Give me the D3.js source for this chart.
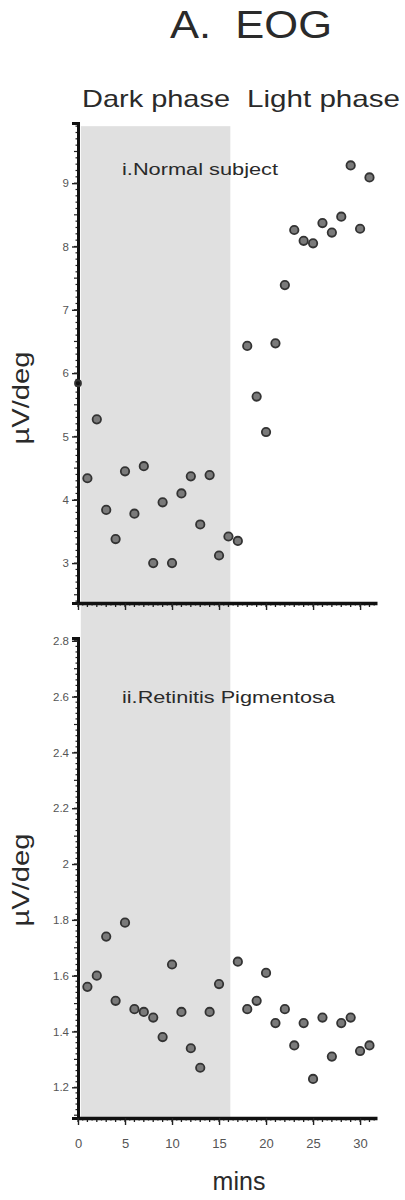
<!DOCTYPE html>
<html>
<head>
<meta charset="utf-8">
<script src="https://cdn.jsdelivr.net/npm/d3@7"></script>
<style>
    body { margin: 0; background: #fff; }
    svg { display: block; font-family: 'Liberation Sans', Arial, sans-serif; }
    .tick text { fill: #555; }
</style>
</head>
<body>
<svg id="chart" width="405" height="1200"></svg>
<script>
// minutes for each reading
const normalMins = [0, 1, 2, 3, 4, 5, 6, 7, 8, 9, 10, 11, 12, 13, 14, 15, 16, 17, 18, 19, 20, 21, 22, 23, 24, 25, 26, 27, 28, 29, 30, 31];
const normalVals = [5.84, 4.34, 5.27, 3.84, 3.38, 4.45, 3.78, 4.53, 3.0, 3.96, 3.0, 4.1, 4.37, 3.61, 4.39, 3.12, 3.42, 3.35, 6.43, 5.63, 5.07, 6.47, 7.39, 8.26, 8.09, 8.05, 8.37, 8.22, 8.47, 9.28, 8.28, 9.09];

const rpMins = [1, 2, 3, 4, 5, 6, 7, 8, 9, 10, 11, 12, 13, 14, 15, 17, 18, 19, 20, 21, 22, 23, 24, 25, 26, 27, 28, 29, 30, 31];
const rpVals = [1.56, 1.6, 1.74, 1.51, 1.79, 1.48, 1.47, 1.45, 1.38, 1.64, 1.47, 1.34, 1.27, 1.47, 1.57, 1.65, 1.48, 1.51, 1.61, 1.43, 1.48, 1.35, 1.43, 1.23, 1.45, 1.31, 1.43, 1.45, 1.33, 1.35];

const xTicks = [0, 5, 10, 15, 20, 25, 30];
const normalTicks = [3, 4, 5, 6, 7, 8, 9];
const rpTicks = [1.2, 1.4, 1.6, 1.8, 2, 2.2, 2.4, 2.6, 2.8];
const darkPhase = [0.3, 16.2];

const svg = d3.select('#chart');

const x = d3.scaleLinear().domain([0, 31.8]).range([78, 377]);
const yTop = d3.scaleLinear().domain([2.37, 9.95]).range([603, 123]);
const yBot = d3.scaleLinear().domain([1.09, 2.81]).range([1118, 638]);

function label(txt, px, py, size, width) {
    const t = svg.append('text')
        .attr('x', px)
        .attr('y', py)
        .attr('font-size', size)
        .attr('fill', '#2a2a2a')
        .attr('xml:space', 'preserve')
        .text(txt);
    if (width) {
        t.attr('textLength', width).attr('lengthAdjust', 'spacingAndGlyphs');
    }
    return t;
}

// shaded dark phase, runs through both panels
svg.append('rect')
    .attr('x', x(darkPhase[0]))
    .attr('width', x(darkPhase[1]) - x(darkPhase[0]))
    .attr('y', yTop(9.9))
    .attr('height', yBot(1.09) - yTop(9.9))
    .attr('fill', '#e0e0e0');

label('A.  EOG', 170, 38, 38, 162);
label('Dark phase', 82, 107, 24, 148);
label('Light phase', 247, 107, 24, 153);

function yAxis(scale, step, minor, majors, fmt) {
    const [lo, hi] = scale.domain();
    const g = svg.append('g').attr('transform', `translate(${x(0)},0)`);
    const fine = d3.range(Math.ceil(lo / minor) * minor, hi, minor);
    g.selectAll('.fine')
        .data(fine)
        .join('line')
        .attr('x1', 0)
        .attr('x2', d => (Math.abs(d / (step / 2) - Math.round(d / (step / 2))) < 1e-6 ? -4 : -2.5))
        .attr('y1', d => scale(d))
        .attr('y2', d => scale(d))
        .attr('stroke', '#222')
        .attr('stroke-width', 1.2);
    const axis = d3.axisLeft(scale).tickValues(majors).tickSize(6).tickPadding(3).tickFormat(fmt);
    g.call(axis);
    g.select('.domain').attr('stroke', '#111').attr('stroke-width', 3);
    g.selectAll('.tick line').attr('stroke', '#222').attr('stroke-width', 1.4);
    g.selectAll('.tick text').attr('font-size', 11.5).attr('fill', '#555');
    return g;
}

function xAxis(yPos, labels) {
    const g = svg.append('g').attr('transform', `translate(0,${yPos})`);
    g.selectAll('.fine')
        .data(d3.range(0, 31.8, 0.5))
        .join('line')
        .attr('x1', d => x(d))
        .attr('x2', d => x(d))
        .attr('y1', 0)
        .attr('y2', d => (d % 1 === 0 ? 4 : 2.5))
        .attr('stroke', '#222')
        .attr('stroke-width', 1.3);
    const axis = d3.axisBottom(x).tickValues(xTicks).tickSize(7).tickPadding(14).tickSizeOuter(0)
        .tickFormat(labels ? d3.format('d') : '');
    g.call(axis);
    g.select('.domain').attr('stroke', '#111').attr('stroke-width', 3.5);
    g.selectAll('.tick line').attr('stroke', '#222').attr('stroke-width', 1.4);
    g.selectAll('.tick text').attr('font-size', 13).attr('fill', '#555');
    return g;
}

yAxis(yTop, 1, 0.1, normalTicks, d3.format('d'));
xAxis(yTop(2.37), false);
yAxis(yBot, 0.2, 0.02, rpTicks, d3.format('~g'));
xAxis(yBot(1.09), true);

function scatter(mins, vals, scale) {
    svg.append('g')
        .selectAll('circle')
        .data(mins.map((m, i) => ({ m, v: vals[i] })))
        .join('circle')
        .attr('cx', d => x(d.m))
        .attr('cy', d => scale(d.v))
        .attr('r', d => (d.m === 0 ? 3 : 4.2))
        .attr('fill', d => (d.m === 0 ? '#111' : '#7a7a7a'))
        .attr('stroke', '#333')
        .attr('stroke-width', 1.8);
}

scatter(normalMins, normalVals, yTop);
scatter(rpMins, rpVals, yBot);

label('i.Normal subject', 122, 175, 16, 156);
label('ii.Retinitis Pigmentosa', 122, 703, 16, 213);

[398, 880].forEach(cy => {
    svg.append('text')
        .attr('transform', `translate(29,${cy}) rotate(-90)`)
        .attr('text-anchor', 'middle')
        .attr('font-size', 24)
        .attr('fill', '#2a2a2a')
        .attr('textLength', 93)
        .attr('lengthAdjust', 'spacingAndGlyphs')
        .text('µV/deg');
});

svg.append('text')
    .attr('x', 239)
    .attr('y', 1190)
    .attr('text-anchor', 'middle')
    .attr('font-size', 25)
    .attr('fill', '#2a2a2a')
    .text('mins');
</script>
</body>
</html>
